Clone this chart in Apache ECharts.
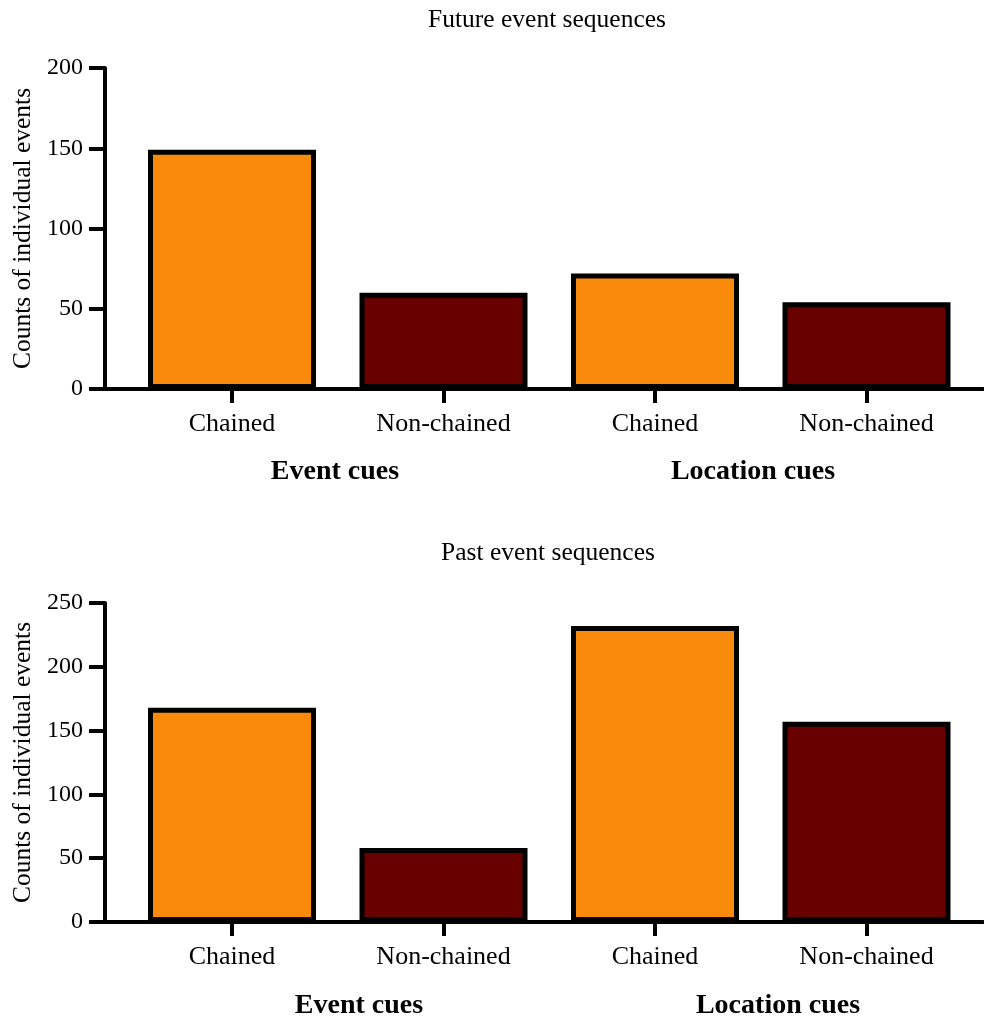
<!DOCTYPE html>
<html>
<head>
<meta charset="utf-8">
<script src="https://cdn.jsdelivr.net/npm/echarts@6/dist/echarts.min.js"></script>
<style>html,body{margin:0;padding:0;background:#fff;}#c{width:984px;height:1018px;}</style>
</head>
<body>
<div id="c"></div>
<script>
const categories = ['Chained', 'Non-chained', 'Chained', 'Non-chained'];
const groups = ['Event cues', 'Location cues'];
const futureValues = [149, 60, 72, 54];
const pastValues = [168, 58, 232, 157];
const futureTicks = [0, 50, 100, 150, 200];
const pastTicks = [0, 50, 100, 150, 200, 250];
const panelTitles = ['Future event sequences', 'Past event sequences'];
const yName = 'Counts of individual events';

const ORANGE = '#F98A0B';
const DARK = '#680000';
const FONT = 'Liberation Serif';
const chart = echarts.init(document.getElementById('c'), null, {renderer: 'canvas'});

const positions = categories.map((_, i) => i);

function xAxisFor(gi) {
  return {
    type: 'value', gridIndex: gi, min: -0.6005, max: 3.5508,
    axisLine: {show: true, onZero: false, lineStyle: {color: '#000', width: 4}},
    axisTick: {show: true, length: 14, lineStyle: {color: '#000', width: 4}, customValues: positions},
    axisLabel: {show: true, customValues: positions, margin: 22, color: '#000', fontFamily: FONT, fontSize: 26,
      formatter: v => categories[Math.round(v)]},
    splitLine: {show: false}
  };
}
function yAxisFor(gi, ticks) {
  return {
    type: 'value', gridIndex: gi, min: ticks[0], max: ticks[ticks.length - 1], interval: ticks[1] - ticks[0],
    name: yName, nameLocation: 'middle', nameGap: 66, nameRotate: 90,
    nameTextStyle: {color: '#000', fontFamily: FONT, fontSize: 25.5},
    axisLine: {show: true, onZero: false, lineStyle: {color: '#000', width: 4}},
    axisTick: {show: true, length: 16, lineStyle: {color: '#000', width: 4}},
    axisLabel: {color: '#000', fontFamily: FONT, fontSize: 24, margin: 22},
    splitLine: {show: false}
  };
}
function seriesFor(gi, values) {
  return {
    type: 'bar', xAxisIndex: gi, yAxisIndex: gi, barWidth: 168,
    data: values.map((v, i) => ({value: [positions[i], v], itemStyle: {color: i % 2 === 0 ? ORANGE : DARK}})),
    itemStyle: {borderColor: '#000', borderWidth: 5},
    emphasis: {disabled: true}, animation: false
  };
}
function textTitle(text, x, y, size, bold) {
  return {text: text, left: x, top: y, textAlign: 'center', padding: 0,
    textStyle: {color: '#000', fontFamily: FONT, fontSize: size, fontWeight: bold ? 'bold' : 'normal'}};
}

chart.setOption({
  animation: false,
  backgroundColor: '#fff',
  title: [
    textTitle(panelTitles[0], 547, 7, 25.5, false),
    textTitle(panelTitles[1], 548, 540, 25.5, false),
    textTitle(groups[0], 335, 458, 28, true),
    textTitle(groups[1], 753, 458, 28, true),
    textTitle(groups[0], 359, 992, 28, true),
    textTitle(groups[1], 778, 992, 28, true)
  ],
  grid: [
    {left: 105, right: 1, top: 68, height: 321},
    {left: 105, right: 1, top: 603, height: 319}
  ],
  xAxis: [xAxisFor(0), xAxisFor(1)],
  yAxis: [yAxisFor(0, futureTicks), yAxisFor(1, pastTicks)],
  series: [seriesFor(0, futureValues), seriesFor(1, pastValues)]
});
</script>
</body>
</html>
